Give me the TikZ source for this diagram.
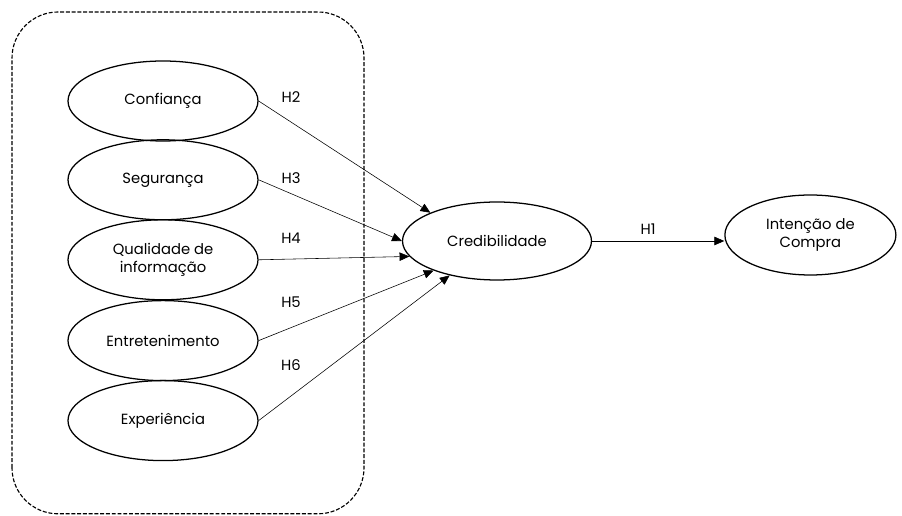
\documentclass[tikz,border=0pt]{standalone}
\usepackage{fontspec}
\setmainfont{Poppins}
\usetikzlibrary{arrows.meta,shapes.geometric}

\begin{document}
\begin{tikzpicture}[
  construct/.style={draw, ellipse, line width=0.9pt, inner sep=0pt,
    minimum width=4.75cm, minimum height=2cm, align=center,
    font=\fontsize{10.5}{12.5}\selectfont},
  link/.style={-{Triangle[length=7pt,width=6pt]}, line width=0.4pt},
  hyp/.style={font=\fontsize{10.5}{12.5}\selectfont}
]
\useasboundingbox (0,0) rectangle (22.55,12.875);

% grupo de antecedentes
\draw[line width=0.8pt, dash pattern=on 2.8pt off 1.3pt, rounded corners=1.15cm]
  (0.3,0.03) rectangle (9.1,12.575);

\node[construct] (conf) at (4.075,10.35) {Confiança};
\node[construct] (seg) at (4.075,8.38) {Segurança};
\node[construct] (qual) at (4.075,6.38) {Qualidade de\\informação};
\node[construct] (entr) at (4.075,4.36) {Entretenimento};
\node[construct] (exp) at (4.075,2.36) {Experiência};

\node[construct, minimum width=4.725cm, minimum height=1.95cm] (cred) at (12.425,6.85) {Credibilidade};
\node[construct, minimum width=4.275cm] (int) at (20.26,7.0) {Intenção de\\Compra};

\draw[link] (conf.east) -- (cred.157);
\draw[link] (seg.east) -- (cred.180);
\draw[link] (qual.east) -- (cred.190);
\draw[link] (entr.east) -- (cred.205);
\draw[link] (exp.east) -- (cred.216);
\draw[link] (cred.east) -- (cred.east -| int.west);

\node[hyp] (h2) at (7.275,10.45) {H2};
\node[hyp] (h3) at (7.275,8.43) {H3};
\node[hyp] (h4) at (7.275,6.93) {H4};
\node[hyp] (h5) at (7.275,5.33) {H5};
\node[hyp] (h6) at (7.275,3.75) {H6};
\node[hyp] (h1) at (16.2,7.15) {H1};
\end{tikzpicture}
\end{document}
